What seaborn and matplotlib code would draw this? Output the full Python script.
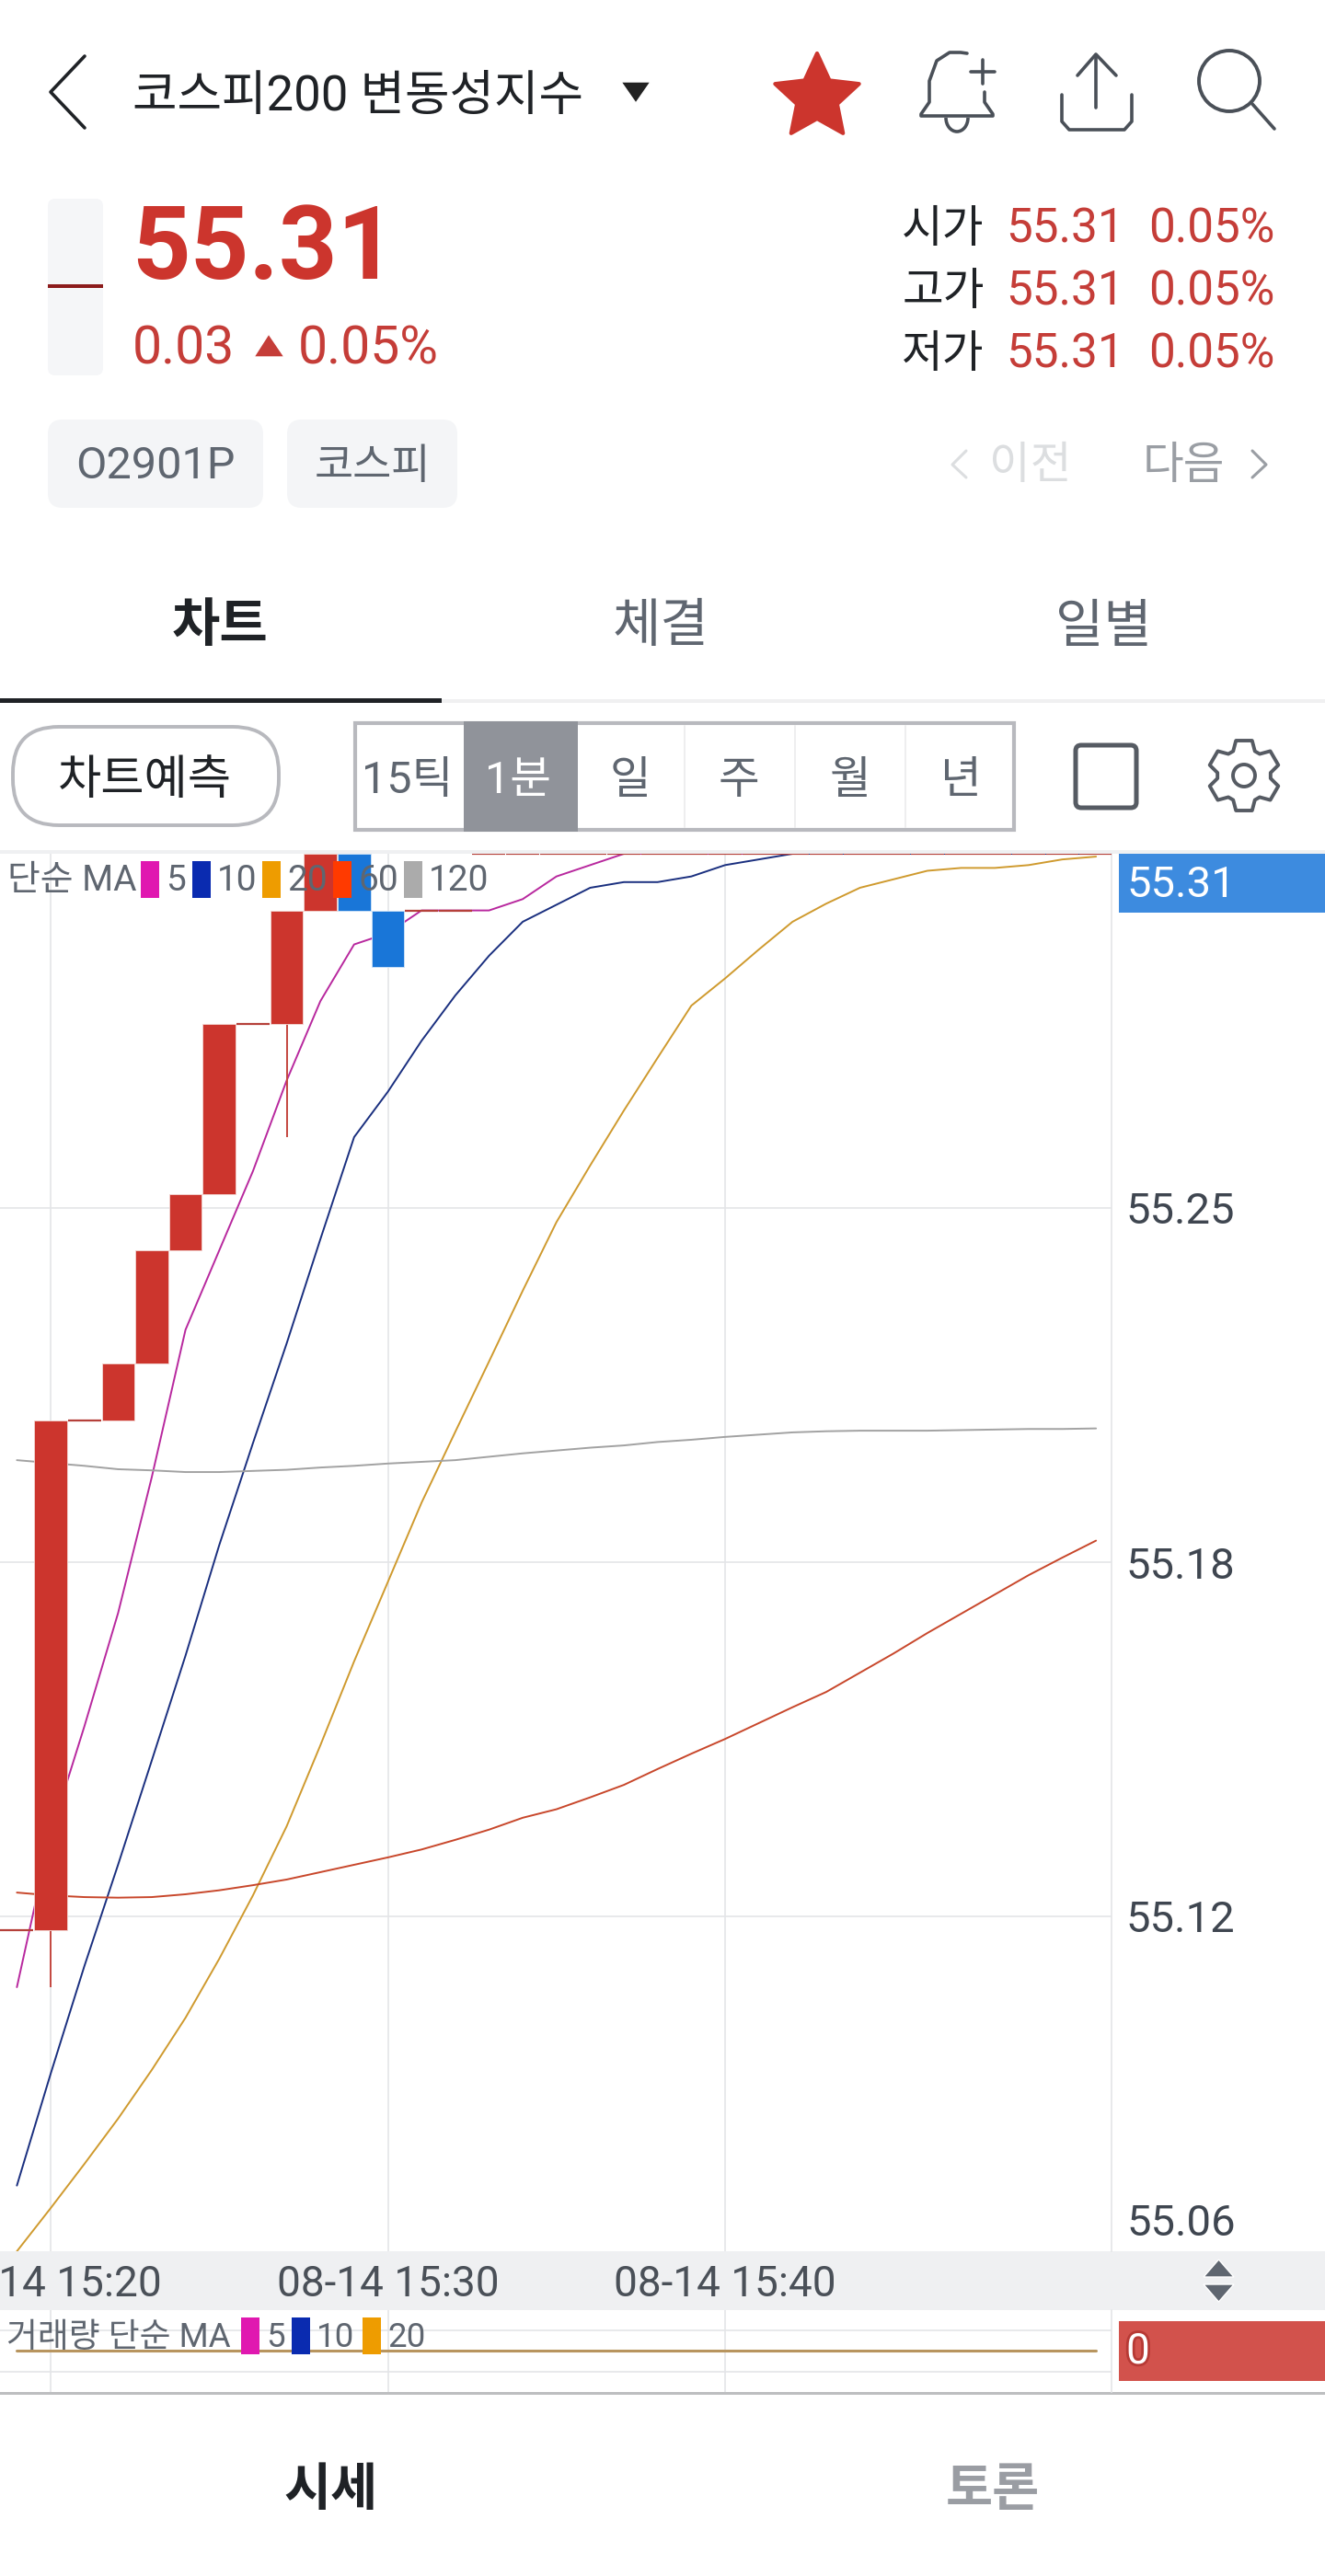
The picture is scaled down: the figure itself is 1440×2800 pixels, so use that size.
import numpy as np
import pandas as pd
import matplotlib
matplotlib.use("Agg")
import matplotlib.pyplot as plt
from matplotlib.patches import FancyBboxPatch, Polygon, Rectangle, Circle, Arc
import matplotlib.patheffects as pe
import seaborn as sns

# minutes counted from 15:20
minutes = list(range(-1, 32))

opens = [55.12, 55.12, 55.21, 55.21, 55.22, 55.24, 55.25, 55.28, 55.28, 55.30, 55.31, 55.30, 55.30, 55.30,
         55.31, 55.31, 55.31, 55.31, 55.31, 55.31, 55.31, 55.31, 55.31, 55.31, 55.31, 55.31, 55.31, 55.31,
         55.31, 55.31, 55.31, 55.31, 55.31]
closes = [55.12, 55.21, 55.21, 55.22, 55.24, 55.25, 55.28, 55.28, 55.30, 55.31, 55.30, 55.29, 55.30, 55.30,
          55.31, 55.31, 55.31, 55.31, 55.31, 55.31, 55.31, 55.31, 55.31, 55.31, 55.31, 55.31, 55.31, 55.31,
          55.31, 55.31, 55.31, 55.31, 55.31]
lows = [55.12, 55.11, 55.21, 55.21, 55.22, 55.24, 55.25, 55.28, 55.26, 55.30, 55.30, 55.29, 55.30, 55.30,
        55.31, 55.31, 55.31, 55.31, 55.31, 55.31, 55.31, 55.31, 55.31, 55.31, 55.31, 55.31, 55.31, 55.31,
        55.31, 55.31, 55.31, 55.31, 55.31]

ma5 = [55.11, 55.137, 55.156, 55.176, 55.20, 55.226, 55.24, 55.254, 55.27, 55.284, 55.294, 55.296, 55.30,
       55.30, 55.30, 55.302, 55.306, 55.308, 55.31, 55.31, 55.31, 55.31, 55.31, 55.31, 55.31, 55.31, 55.31,
       55.31, 55.31, 55.31, 55.31, 55.31, 55.31]
ma10 = [55.075, 55.0947, 55.1137, 55.1316, 55.15, 55.1685, 55.188, 55.206, 55.2236, 55.242, 55.26, 55.268,
        55.277, 55.285, 55.292, 55.298, 55.301, 55.304, 55.305, 55.305, 55.306, 55.308, 55.309, 55.31, 55.31,
        55.31, 55.31, 55.31, 55.31, 55.31, 55.31, 55.31, 55.31]
ma20 = [55.0634, 55.071, 55.0788, 55.0868, 55.0954, 55.1046, 55.115, 55.1262, 55.1384, 55.1527, 55.1675, 55.1815,
        55.1955, 55.208, 55.2204, 55.2329, 55.245, 55.255, 55.2647, 55.274, 55.2832, 55.288, 55.2931, 55.298,
        55.3012, 55.304, 55.3055, 55.307, 55.3075, 55.3075, 55.308, 55.309, 55.3095]
ma60 = [55.1267, 55.1262, 55.1259, 55.1258, 55.1259, 55.1264, 55.1271, 55.128, 55.129, 55.1303, 55.1316, 55.1329,
        55.1343, 55.136, 55.1378, 55.1399, 55.1414, 55.1435, 55.1457, 55.1485, 55.1512, 55.1538, 55.1566, 55.1594,
        55.1621, 55.1655, 55.1689, 55.1725, 55.1759, 55.1793, 55.1827, 55.1858, 55.1888]
ma120 = [55.203, 55.2025, 55.202, 55.2014, 55.2012, 55.2009, 55.2009, 55.2011, 55.2013, 55.2017, 55.202, 55.2024,
         55.2027, 55.203, 55.2036, 55.2042, 55.2047, 55.2052, 55.2056, 55.2062, 55.2066, 55.2071, 55.2075, 55.2079,
         55.2081, 55.2082, 55.2082, 55.2082, 55.2083, 55.2084, 55.2085, 55.2085, 55.2086]
volume_ma = [0] * 33

price_ticks = [55.1225, 55.185, 55.2475]
price_labels = ["55.12", "55.18", "55.25"]
time_ticks = [0, 10, 20]
time_labels = ["08-14 15:20", "08-14 15:30", "08-14 15:40"]

W, H = 1440, 2800
RED = "#CC352D"
BLUE = "#1976D8"
GRID = "#E4E5E8"
DARK = "#1F2226"
GRAY = "#5F6670"
ICON = "#4A5058"

sns.set_theme(style="white")
plt.rcParams["font.family"] = ["Roboto", "Noto Sans CJK KR", "DejaVu Sans"]
plt.rcParams["axes.unicode_minus"] = False

fig = plt.figure(figsize=(W / 100, H / 100), dpi=100, facecolor="white")


def px_axes(x0, y0, x1, y1, **kw):
    return fig.add_axes([x0 / W, 1 - y1 / H, (x1 - x0) / W, (y1 - y0) / H], **kw)


bg = px_axes(0, 0, W, H, zorder=0)
fg = px_axes(0, 0, W, H, zorder=5)
for a in (bg, fg):
    a.set_xlim(0, W)
    a.set_ylim(H, 0)
    a.axis("off")
fg.patch.set_alpha(0)

# main price chart
ax = px_axes(0, 928, 1208, 2447, zorder=1)
frame = pd.DataFrame({"minute": minutes, "MA5": ma5, "MA10": ma10, "MA20": ma20, "MA60": ma60, "MA120": ma120})
long_ma = frame.melt(id_vars="minute", var_name="ma", value_name="price")
line_colors = {"MA120": "#A2A2A2", "MA60": "#C8472B", "MA20": "#CF9A2E", "MA10": "#1A2F7F", "MA5": "#B8289E"}
sns.lineplot(data=long_ma, x="minute", y="price", hue="ma", palette=line_colors, legend=False,
             errorbar=None, linewidth=1.4, ax=ax, zorder=2)

for m, o, c, lo in zip(minutes, opens, closes, lows):
    col = RED if c >= o else BLUE
    if o == c:
        ax.hlines(c, m - 0.49, m + 0.49, color="#B5403A", linewidth=1.6, zorder=3)
    else:
        ax.bar(m, abs(c - o), bottom=min(o, c), width=0.97, color=col, edgecolor="#F3D6D2" if col == RED else "#CFE3F7",
               linewidth=0.6, zorder=4)
    if lo < min(o, c):
        ax.vlines(m, lo, min(o, c), color="#C4463F", linewidth=1.4, zorder=3)

ax.set_xlim(-55 / 36.65, (1208 - 55) / 36.65)
ax.set_ylim(55.31 - (2447 - 928) / 6160, 55.31)
ax.set_xticks(time_ticks)
ax.set_xticklabels(time_labels, fontsize=33, color="#4A5058")
ax.yaxis.tick_right()
ax.set_yticks(price_ticks)
ax.set_yticklabels(price_labels, fontsize=34, color="#3F4650")
ax.tick_params(axis="both", length=0)
ax.tick_params(axis="x", pad=10)
ax.tick_params(axis="y", pad=11)
ax.grid(True, color=GRID, linewidth=1.2)
ax.set_axisbelow(True)
ax.set_xlabel("")
ax.set_ylabel("")
for side in ("top", "left", "bottom"):
    ax.spines[side].set_visible(False)
ax.spines["right"].set_color(GRID)
ax.spines["right"].set_linewidth(1.2)
ax.text(1224 / 1208, 1 - (2417 - 928) / (2447 - 928), "55.06", transform=ax.transAxes, fontsize=34,
        color="#3F4650", va="center", ha="left")

# volume panel
vax = px_axes(0, 2511, 1208, 2600, zorder=1)
sns.lineplot(x=minutes, y=volume_ma, color="#B8955F", linewidth=2.2, errorbar=None, ax=vax)
vax.set_xlim(ax.get_xlim())
vax.set_ylim(-45 / 22.5, 44 / 22.5)
vax.set_xticks(time_ticks)
vax.set_yticks([-1, 1])
vax.set_xticklabels([])
vax.set_yticklabels([])
vax.tick_params(length=0)
vax.grid(True, color=GRID, linewidth=1.2)
vax.set_axisbelow(True)
for side in ("top", "left", "bottom"):
    vax.spines[side].set_visible(False)
vax.spines["right"].set_color(GRID)
vax.spines["right"].set_linewidth(1.2)


def txt(a, x, y, s, size, color, ha="center", weight="normal", **kw):
    return a.text(x, y, s, fontsize=size, color=color, ha=ha, va="center", fontweight=weight, **kw)


def box(a, x0, y0, x1, y1, r=0, fc="none", ec="none", lw=0, **kw):
    if r:
        p = FancyBboxPatch((x0, y0), x1 - x0, y1 - y0, boxstyle=f"round,pad=0,rounding_size={r}",
                           fc=fc, ec=ec, lw=lw, **kw)
    else:
        p = Rectangle((x0, y0), x1 - x0, y1 - y0, fc=fc, ec=ec, lw=lw, **kw)
    a.add_patch(p)
    return p


def stroke(xs, ys, color=ICON, lw=2.6):
    bg.plot(xs, ys, color=color, lw=lw, solid_capstyle="round", solid_joinstyle="round")


# bands and rules
box(bg, 0, 924, W, 928, fc="#EFF0F2")
box(bg, 0, 2447, W, 2511, fc="#EFF0F2")
box(bg, 0, 2600, W, 2603, fc="#BDBEC0")
box(bg, 0, 760, W, 764, fc="#F0F0F1")
box(bg, 0, 759, 480, 764, fc=DARK)
bg.add_patch(Polygon([(1308, 2475), (1341, 2475), (1324.5, 2456)], fc=GRAY))
bg.add_patch(Polygon([(1308, 2483), (1341, 2483), (1324.5, 2502)], fc=GRAY))

# header
stroke([92, 55, 92], [61, 100, 139], DARK, 2.6)
txt(bg, 144, 105, "코스피200 변동성지수", 38, DARK, ha="left")
bg.add_patch(Polygon([(675, 89), (707, 89), (691, 112)], fc="#222222"))

ang = np.deg2rad(np.arange(0, 360, 36) - 90)
rad = np.array([48, 23] * 5)
bg.add_patch(Polygon(np.c_[888 + rad * np.cos(ang), 106 + rad * np.sin(ang)], fc=RED, ec=RED, lw=3, joinstyle="round"))

# bell
stroke([1051, 1044, 1032, 1018, 1010, 1010, 1001, 1001, 1079, 1079, 1070, 1070],
       [58, 57, 57, 66, 88, 111, 124, 126, 126, 124, 111, 100])
bg.add_patch(Arc((1040, 128), 24, 30, theta1=0, theta2=180, color=ICON, lw=2.6))
stroke([1055, 1081], [78, 78])
stroke([1068, 1068], [65, 91])
# share
stroke([1154, 1154, 1162, 1222, 1230, 1230], [103, 132, 141, 141, 132, 103])
stroke([1191, 1191], [62, 117])
stroke([1171, 1191, 1213], [82, 59, 82])
# search
bg.add_patch(Circle((1336, 88), 33, fc="none", ec=ICON, lw=2.8))
stroke([1361, 1385], [113, 140])

# quote
box(bg, 52, 216, 112, 408, r=8, fc="#F5F6F8")
box(bg, 52, 309, 112, 313, fc="#8C1C1C")
txt(bg, 143, 273, "55.31", 80, RED, ha="left", weight="bold")
txt(bg, 144, 380, "0.03", 41, "#C53D38", ha="left")
bg.add_patch(Polygon([(276, 388), (309, 388), (292, 363)], fc="#C53D38"))
txt(bg, 324, 380, "0.05%", 41, "#C53D38", ha="left")
for ypos, lab in zip([250, 318, 386], ["시가", "고가", "저가"]):
    txt(bg, 1025, ypos, lab, 35, DARK)
    txt(bg, 1158, ypos, "55.31", 37, "#C53D38")
    txt(bg, 1317, ypos, "0.05%", 37, "#C53D38")

# chips
box(bg, 52, 456, 286, 552, r=16, fc="#F4F5F7")
box(bg, 312, 456, 497, 552, r=16, fc="#F4F5F7")
txt(bg, 169, 507, "O2901P", 35, GRAY)
txt(bg, 405, 507, "코스피", 33, GRAY)
stroke([1050, 1035, 1050], [490, 505, 519], "#DCDEE0", 2.2)
txt(bg, 1120, 507, "이전", 35, "#DCDEE0")
txt(bg, 1286, 507, "다음", 35, "#9A9EA4")
stroke([1361, 1376, 1361], [490, 505, 519], "#9A9EA4", 2.2)

# tabs
txt(bg, 239, 682, "차트", 41, DARK, weight="bold")
txt(bg, 718, 682, "체결", 41, GRAY)
txt(bg, 1199, 682, "일별", 41, GRAY)

# toolbar
box(bg, 14, 790, 303, 897, r=50, fc="white", ec="#B8B9BE", lw=2.8)
txt(bg, 157, 849, "차트예측", 37, DARK)
box(bg, 386, 786, 1102, 902, fc="white", ec="#B8B9BE", lw=3)
box(bg, 504, 784, 628, 904, fc="#90939A")
for xdiv in (744, 864, 984):
    box(bg, xdiv - 1, 788, xdiv + 1, 900, fc="#EEEEEF")
for xpos, lab, col in zip([443, 563, 685, 803, 924, 1044], ["15틱", "1분", "일", "주", "월", "년"],
                          [GRAY, "white", GRAY, GRAY, GRAY, GRAY]):
    txt(bg, xpos, 849, lab, 35, col)
box(bg, 1169, 810, 1235, 878, r=6, ec="#565B63", lw=3.6)
t = np.deg2rad(np.arange(0, 360, 60))
gear = []
for a0 in t:
    for d, r in [(-24, 29), (-13, 39), (13, 39), (24, 29)]:
        gear.append((1352 + r * np.sin(a0 + np.deg2rad(d)), 843 - r * np.cos(a0 + np.deg2rad(d))))
bg.add_patch(Polygon(gear, fc="none", ec="#565B63", lw=2.8, joinstyle="round"))
bg.add_patch(Circle((1352, 843), 12, fc="none", ec="#565B63", lw=2.8))

# bottom tabs
txt(bg, 360, 2708, "시세", 40, DARK, weight="bold")
txt(bg, 1079, 2708, "토론", 40, "#9A9DA3", weight="bold")

# value badges
box(bg, 1216, 928, W, 992, fc="#3D8BDF")
txt(bg, 1224, 962, "55.31", 34, "white", ha="left")
box(bg, 1216, 2523, W, 2588, fc="#D2524C")
zero = txt(bg, 1237, 2556, "0", 33, "white")
zero.set_path_effects([pe.withStroke(linewidth=4, foreground="#B73A35")])

# indicator legends
LEG = "#5F6670"
txt(fg, 8, 957, "단순 MA", 28, LEG, ha="left")
for x0, col, lab in zip([153, 208.5, 285, 362, 439], ["#E018B0", "#0A2BB0", "#EE9C00", "#FF3A00", "#ABABAB"],
                        ["5", "10", "20", "60", "120"]):
    box(fg, x0, 936, x0 + 20, 976, fc=col)
    txt(fg, x0 + 27, 957, lab, 28, LEG, ha="left")
txt(fg, 7, 2541, "거래량 단순 MA", 26.5, LEG, ha="left")
for x0, col, lab in zip([262, 317, 394], ["#E018B0", "#0A2BB0", "#EE9C00"], ["5", "10", "20"]):
    box(fg, x0, 2519, x0 + 20, 2559, fc=col)
    txt(fg, x0 + 27, 2541, lab, 26.5, LEG, ha="left")

fig.savefig("out.png", dpi=100, facecolor="white")
